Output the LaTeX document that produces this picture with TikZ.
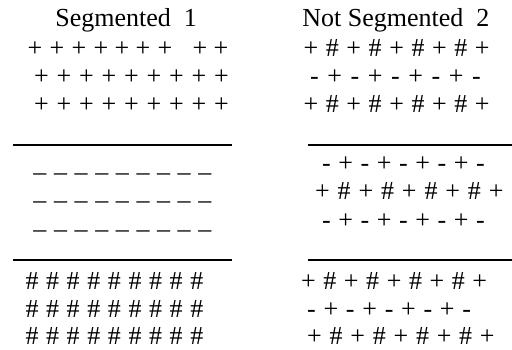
\documentclass[tikz,border=0pt]{standalone}
\usepackage{fontspec}
\setmainfont{Liberation Serif}
\usetikzlibrary{positioning}
\tikzset{every picture/.style={line width=0.75pt}}

\begin{document}
\begin{tikzpicture}[x=1pt,y=-1pt,
    sym/.style={anchor=base,inner sep=0pt,font=\fontsize{26}{30}\selectfont},
    title/.style={anchor=base west,inner sep=0pt,font=\fontsize{26}{30}\selectfont},
    rule/.style={line width=1.3pt}]
    \useasboundingbox (0,0) rectangle (512,350);
    % titles
    \node[title] (seg) at (55,27) {Segmented~~1};
    \node[title] (notseg) at (302,27) {Not Segmented~~2};
    % left column, plus rows
    \foreach \x [count=\i] in {35,57,79,101,122,143,165,200,221}
        \node[sym] (la-\i) at (\x,57) {+};
    \foreach \i in {1,...,9} {
        \node[sym] (lb-\i) at ({41.5+22.5*(\i-1)},85) {+};
        \node[sym] (lc-\i) at ({41.5+22.5*(\i-1)},113) {+};
    }
    \draw[rule] (13,145) -- (232,145);
    % left column, dash rows
    \foreach \y [count=\j] in {181,209,238}
        \foreach \i in {1,...,9}
            \node[sym] (ld\j-\i) at ({40+20.6*(\i-1)},\y) {--};
    \draw[rule] (13,260) -- (232,260);
    % left column, hash rows
    \foreach \y [count=\j] in {290,317,344}
        \foreach \i in {1,...,9}
            \node[sym] (lh\j-\i) at ({32+20.6*(\i-1)},\y) {\#};
    % right column, top block
    \foreach \s [count=\i] in {+,\#,+,\#,+,\#,+,\#,+} {
        \node[sym] (ra-\i) at ({311+21.4*(\i-1)},57) {\s};
        \node[sym] (rc-\i) at ({311+21.4*(\i-1)},113) {\s};
    }
    \foreach \s [count=\i] in {-,+,-,+,-,+,-,+,-}
        \node[sym] (rb-\i) at ({314.5+20.25*(\i-1)},85) {\s};
    \draw[rule] (308,145) -- (512,145);
    % right column, middle block
    \foreach \s [count=\i] in {-,+,-,+,-,+,-,+,-} {
        \node[sym] (rd-\i) at ({326.5+19.25*(\i-1)},172) {\s};
        \node[sym] (rf-\i) at ({326.5+19.25*(\i-1)},229) {\s};
    }
    \foreach \s [count=\i] in {+,\#,+,\#,+,\#,+,\#,+}
        \node[sym] (re-\i) at ({322.5+21.7*(\i-1)},200) {\s};
    \draw[rule] (308,260) -- (512,260);
    % right column, bottom block
    \foreach \s [count=\i] in {+,\#,+,\#,+,\#,+,\#,+} {
        \node[sym] (rg-\i) at ({308.5+21.4*(\i-1)},289) {\s};
        \node[sym] (ri-\i) at ({314.5+21.6*(\i-1)},344) {\s};
    }
    \foreach \s [count=\i] in {-,+,-,+,-,+,-,+,-}
        \node[sym] (rh-\i) at ({311.5+19.4*(\i-1)},317) {\s};
\end{tikzpicture}
\end{document}
